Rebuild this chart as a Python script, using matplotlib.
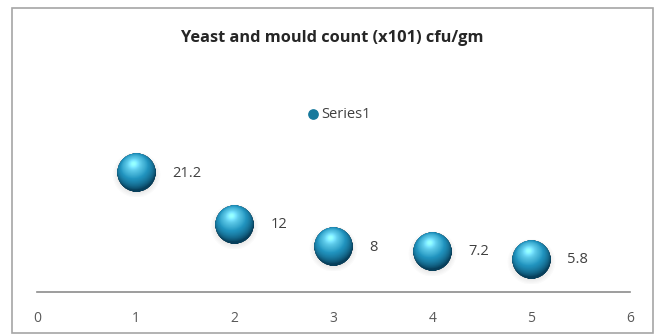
import matplotlib
matplotlib.use("Agg")
import matplotlib.pyplot as plt
import numpy as np
from matplotlib.offsetbox import OffsetImage, AnnotationBbox
from matplotlib.patches import Rectangle

# Bubble chart data
x_vals = [1, 2, 3, 4, 5]
y_vals = [21.2, 12, 8, 7.2, 5.8]
x_ticks = [0, 1, 2, 3, 4, 5, 6]
series_name = "Series1"
title = "Yeast and mould count (x101) cfu/gm"

plt.rcParams['font.family'] = ['Open Sans', 'DejaVu Sans']


def sphere_image(n=129):
    # Shaded sphere with a soft drop shadow, as an RGBA array
    c = np.linspace(-1.25, 1.25, n)
    xx, yy = np.meshgrid(c, -c)
    r2 = xx ** 2 + yy ** 2
    inside = np.clip((1.0 - np.sqrt(r2)) * n / 2.5 + 0.5, 0, 1)
    z = np.sqrt(np.clip(1 - r2, 0, 1))
    light = np.array([-0.15, 0.45, 0.88])
    light = light / np.linalg.norm(light)
    diff = np.clip(xx * light[0] + yy * light[1] + z * light[2], 0, 1)
    spec = np.clip(diff, 0, 1) ** 30
    dark = np.array([0.03, 0.25, 0.36])
    mid = np.array([0.13, 0.58, 0.75])
    lite = np.array([0.40, 0.82, 0.93])
    t = diff[..., None]
    rgb = np.where(t < 0.7, dark + (mid - dark) * (t / 0.7),
                   mid + (lite - mid) * ((t - 0.7) / 0.3))
    rgb = rgb + spec[..., None] * 0.2
    rgb = np.clip(rgb, 0, 1)

    # shadow under the ball
    sd = np.sqrt(xx ** 2 / 1.1 + (yy + 0.12) ** 2 / 1.0)
    shadow = np.clip(1.2 - sd, 0, 1) * 0.35
    img = np.zeros((n, n, 4))
    img[..., :3] = rgb * inside[..., None] + 0.2 * (1 - inside[..., None])
    img[..., 3] = inside + (1 - inside) * shadow
    return img


fig = plt.figure(figsize=(6.57, 3.34), dpi=100)
fig.patch.set_facecolor("white")
fig.patches.append(Rectangle((12 / 657, 1 / 334), 641 / 657, 325 / 334,
                             transform=fig.transFigure, fill=False,
                             edgecolor="#a6a6a6", linewidth=1.2))

ax = fig.add_axes([37 / 657, 42 / 334, 593 / 657, 168 / 334])
ax.set_xlim(0, 6)
ax.set_ylim(0, 30)

ax.scatter(x_vals, y_vals, s=45, color="#17799c", label=series_name, zorder=1)

ball = sphere_image()
for xv, yv in zip(x_vals, y_vals):
    ab = AnnotationBbox(OffsetImage(ball, zoom=0.27), (xv, yv), frameon=False,
                        pad=0, zorder=3)
    ax.add_artist(ab)
    ax.annotate(f"{yv:g}", (xv, yv), xytext=(26, 0), textcoords="offset points",
                ha="left", va="center", fontsize=10.5, color="#404040")

for side in ["left", "right", "top"]:
    ax.spines[side].set_visible(False)
ax.spines["bottom"].set_color("#8c8c8c")
ax.spines["bottom"].set_linewidth(1.2)
ax.set_yticks([])
ax.set_xticks(x_ticks)
ax.tick_params(axis="x", length=0, pad=14, labelsize=10, labelcolor="#595959")

fig.text(332 / 657, 1 - 38 / 334, title, ha="center", va="center",
         fontsize=11.8, fontweight="bold", color="#262626")

fig.legend(loc="center", bbox_to_anchor=(338 / 657, 1 - 114 / 334), frameon=False,
           fontsize=10.5, handletextpad=0.05, markerscale=1.0, labelcolor="#404040",
           handlelength=1.0)

plt.savefig("out.png", dpi=100)
